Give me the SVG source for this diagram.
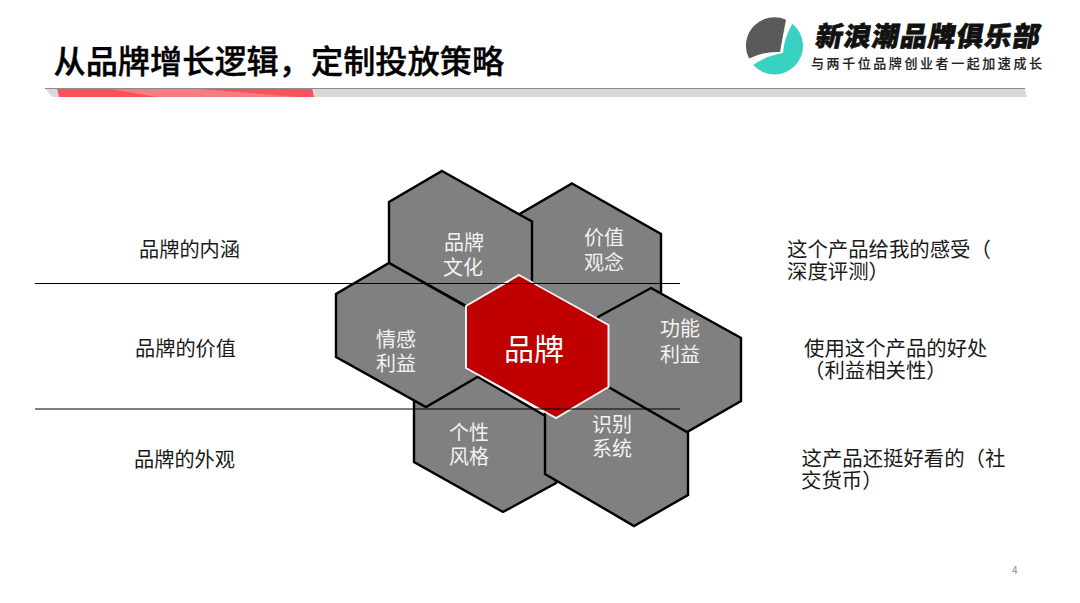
<svg xmlns="http://www.w3.org/2000/svg" width="1080" height="603" viewBox="0 0 1080 603">
<style>
text{font-family:"Noto Sans CJK SC","Noto Sans",sans-serif}
.hex{fill:#808080;stroke:#000;stroke-width:2.4;stroke-linejoin:miter}
.hl{font-size:20px;fill:#f2f2f2;text-anchor:middle}
.t{font-size:20.2px;fill:#1a1a1a}
.r{font-size:20.4px;fill:#1a1a1a}
.rule{stroke:#000;stroke-width:1;fill:none}
</style>
<rect width="1080" height="603" fill="#fff"/>
<g id="header">
<text x="53.5" y="72.5" font-size="32.2" font-weight="500" fill="#000" stroke="#000" stroke-width="0.4">从品牌增长逻辑，定制投放策略</text>
<polygon points="45,88 1025,88 1027,97 52,97" fill="#d9d9d9"/>
<polygon points="57,88 312,88 314,97 59,97" fill="#f9525a"/>
<polygon points="110,89 200,89 297,97 157,97" fill="#f67c82"/>
<line x1="45" y1="88.5" x2="1025" y2="88.5" stroke="#8c8c8c" stroke-width="1"/>
</g>
<g id="logo">
<path d="M786 19.7A28.5 28.5 0 0 0 749 58.6Q765 51 780 52Q783 35 786 19.7Z" fill="#5a5a5a"/>
<path d="M792.3 23.7A28.5 28.5 0 1 1 753.3 65Q768 55 783 53Q784 38 792.3 23.7Z" fill="#39d1c1"/>
<text x="814.5" y="46" font-size="27" font-weight="900" fill="#111" stroke="#111" stroke-width="0.7" textLength="224" lengthAdjust="spacing" style="transform-origin:815px 46px;transform:skewX(-10deg)">新浪潮品牌俱乐部</text>
<text x="811" y="68" font-size="13" font-weight="500" fill="#222" stroke="#222" stroke-width="0.15" textLength="231" lengthAdjust="spacing">与两千位品牌创业者一起加速成长</text>
</g>
<g id="hex-value"><polygon class="hex" points="572,183.5 661,234 661,293 607,326 518,274 518,215"/><text class="hl" x="604" y="245">价值</text><text class="hl" x="604" y="269.5">观念</text></g>
<g id="hex-culture"><polygon class="hex" points="442,171 532,221.5 532,282 479,313 389,263 389,202"/><text class="hl" x="464" y="250">品牌</text><text class="hl" x="463" y="275">文化</text></g>
<g id="hex-style"><polygon class="hex" points="466,370 556,422 556,483 503,512 414,462 414,402"/><text class="hl" x="469" y="440">个性</text><text class="hl" x="469" y="464">风格</text></g>
<g id="hex-identity"><polygon class="hex" points="598,380 688,432 688,495 634,526 545,474 545,410"/><text class="hl" x="612" y="432">识别</text><text class="hl" x="612" y="456">系统</text></g>
<g id="hex-emotion"><polygon class="hex" points="389,263 479,314 479,376 426,407 336,357 336,294"/><text class="hl" x="396" y="347">情感</text><text class="hl" x="396" y="371">利益</text></g>
<g id="hex-function"><polygon class="hex" points="651,288 741,338 741,401 687,432 598,381 598,317"/><text class="hl" x="680" y="336">功能</text><text class="hl" x="680" y="362">利益</text></g>
<g id="hex-brand"><polygon points="519,275 608.5,325 608.5,387 556,418 466,368 466,306" fill="#c00000" stroke="#f2f2f2" stroke-width="2"/><text x="534" y="360" font-size="30" fill="#fff" text-anchor="middle">品牌</text></g>
<g id="connectors">
<line class="rule" x1="35" y1="283.5" x2="680" y2="283.5"/>
<line class="rule" x1="35" y1="409" x2="680" y2="409"/>
</g>
<g id="labels">
<text class="t" x="139" y="257">品牌的内涵</text>
<text class="t" x="135" y="356">品牌的价值</text>
<text class="t" x="134" y="467">品牌的外观</text>
<text class="r" x="787" y="256.5">这个产品给我的感受（</text>
<text class="r" x="787" y="278.5">深度评测）</text>
<text class="r" x="804" y="355.5">使用这个产品的好处</text>
<text class="r" x="804" y="377.5">（利益相关性）</text>
<text class="r" x="801.5" y="465.5">这产品还挺好看的（社</text>
<text class="r" x="801" y="487.5">交货币）</text>
</g>
<text x="1012" y="574" font-size="10" fill="#8c8c8c">4</text>
</svg>
